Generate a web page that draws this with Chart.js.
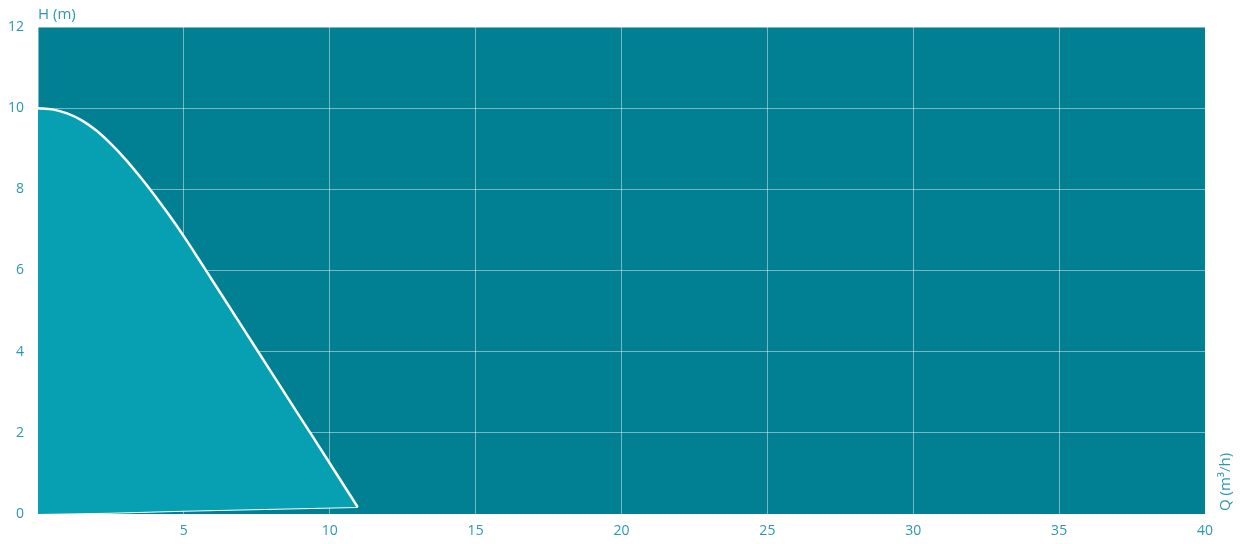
<!DOCTYPE html>
<html lang="en">
<head>
    <meta charset="UTF-8">
    <title>Pump curve H-Q</title>
    <script src="https://cdn.jsdelivr.net/npm/chart.js"></script>
    <style>
        html, body { margin: 0; padding: 0; background: #ffffff; }
        #wrap { width: 1240px; height: 544px; position: relative; }
    </style>
</head>
<body>
    <div id="wrap"><canvas id="pumpChart"></canvas></div>

    <script>
        // H-Q curve: flow Q (m3/h) and head H (m)
        const flowQ = [0, 0.5, 1, 1.5, 2, 2.5, 3, 3.5, 4, 4.5, 5, 5.5, 6, 7, 8, 9, 10, 10.96];
        const headH = [10, 9.97, 9.87, 9.7, 9.45, 9.12, 8.74, 8.31, 7.85, 7.36, 6.84, 6.29, 5.73, 4.61, 3.49, 2.37, 1.25, 0.17];
        // lower edge of the shaded area, from the origin to the end point
        const baseQ = [0, 2.5, 5, 10.96];
        const baseH = [0, 0.03, 0.08, 0.17];
        const xTicks = [0, 5, 10, 15, 20, 25, 30, 35, 40];
        const yTicks = [0, 2, 4, 6, 8, 10, 12];

        const labelColor = '#2a97b2';
        const plotBg = '#017f93';

        const bgPlugin = {
            id: 'plotBg',
            beforeDraw(chart) {
                const { ctx, chartArea: a } = chart;
                ctx.save();
                ctx.fillStyle = plotBg;
                ctx.fillRect(a.left, a.top, a.right - a.left, a.bottom - a.top);
                ctx.restore();
            },
            afterDraw(chart) {
                const { ctx, chartArea: a } = chart;
                ctx.save();
                ctx.fillStyle = labelColor;
                ctx.font = '15px "Open Sans", sans-serif';
                ctx.textBaseline = 'alphabetic';
                ctx.fillText('H (m)', a.left, a.top - 8);
                ctx.translate(a.right + 21, a.bottom - 32);
                ctx.rotate(-Math.PI / 2);
                ctx.textAlign = 'center';
                ctx.textBaseline = 'middle';
                ctx.fillText('Q (m\u00B3/h)', 0, 0);
                ctx.restore();
            }
        };

        const ctx = document.getElementById('pumpChart').getContext('2d');
        new Chart(ctx, {
            type: 'line',
            data: {
                datasets: [{
                    data: flowQ.map((q, i) => ({ x: q, y: headH[i] })),
                    borderColor: '#ffffff',
                    borderWidth: 2.5,
                    backgroundColor: '#07a0b3',
                    fill: '+1',
                    cubicInterpolationMode: 'monotone',
                    pointRadius: 0
                }, {
                    data: baseQ.map((q, i) => ({ x: q, y: baseH[i] })),
                    borderColor: '#ffffff',
                    borderWidth: 2,
                    fill: false,
                    tension: 0,
                    pointRadius: 0
                }]
            },
            options: {
                responsive: true,
                maintainAspectRatio: false,
                animation: false,
                layout: { padding: { top: 27, right: 35, left: 0, bottom: 0 } },
                plugins: { legend: { display: false }, tooltip: { enabled: false } },
                scales: {
                    x: {
                        type: 'linear',
                        min: 0, max: 40,
                        afterBuildTicks: axis => { axis.ticks = xTicks.map(v => ({ value: v })); },
                        afterFit: axis => { axis.height = 30; },
                        border: { display: false },
                        grid: { color: 'rgba(255,255,255,0.45)', lineWidth: 1, drawTicks: false },
                        ticks: {
                            color: labelColor,
                            font: { family: '"Open Sans", sans-serif', size: 14 },
                            padding: 9,
                            maxRotation: 0,
                            callback: v => (v === 0 ? '' : v)
                        }
                    },
                    y: {
                        type: 'linear',
                        min: 0, max: 12,
                        afterBuildTicks: axis => { axis.ticks = yTicks.map(v => ({ value: v })); },
                        afterFit: axis => { axis.width = 38; },
                        border: { display: false },
                        grid: { color: 'rgba(255,255,255,0.45)', lineWidth: 1, drawTicks: false },
                        ticks: {
                            color: labelColor,
                            font: { family: '"Open Sans", sans-serif', size: 14 },
                            padding: 14
                        }
                    }
                }
            },
            plugins: [bgPlugin]
        });
    </script>
</body>
</html>
